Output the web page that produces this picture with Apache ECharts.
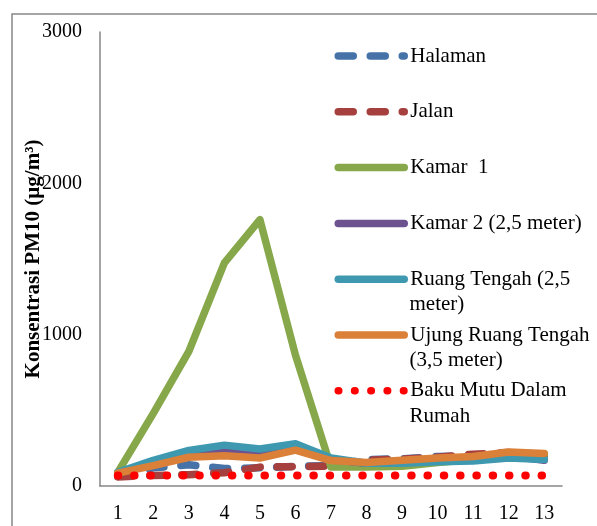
<!DOCTYPE html>
<html>
<head>
<meta charset="utf-8">
<script src="https://cdn.jsdelivr.net/npm/echarts@6/dist/echarts.min.js"></script>
<style>
  html, body { margin: 0; padding: 0; background: #ffffff; }
  #chart { width: 597px; height: 526px; }
</style>
</head>
<body>
<div id="chart"></div>
<script>
// Sampling points along the x axis
const categories = ['1', '2', '3', '4', '5', '6', '7', '8', '9', '10', '11', '12', '13'];

// PM10 concentration (µg/m³) per location
const halaman      = [70, 120, 140, 115, 120, 130, 135, 175, 180, 195, 200, 215, 200];
const jalan        = [60, 70, 75, 88, 125, 128, 132, 170, 178, 190, 210, 222, 205];
const kamar1       = [90, 480, 890, 1475, 1760, 865, 125, 125, 130, 155, 175, 220, 210];
const kamar2       = [85, 150, 210, 235, 205, 240, 175, 150, 160, 175, 185, 200, 170];
const ruangTengah  = [90, 170, 235, 270, 245, 280, 185, 150, 150, 160, 165, 185, 175];
const ujungRuang   = [85, 135, 190, 200, 185, 237, 168, 155, 170, 185, 195, 225, 215];
const bakuMutu     = [70, 70, 70, 70, 70, 70, 70, 70, 70, 70, 70, 70, 70];

// Y axis ticks
const yTicks = [0, 1000, 2000, 3000];

const seriesNames = [
  'Halaman', 'Jalan', 'Kamar  1', 'Kamar 2 (2,5 meter)',
  'Ruang Tengah (2,5 meter)', 'Ujung Ruang Tengah (3,5 meter)', 'Baku Mutu Dalam Rumah'
];
// First line of each legend entry; continuation lines are drawn below
const legendFirstLine = {
  'Ruang Tengah (2,5 meter)': 'Ruang Tengah (2,5',
  'Ujung Ruang Tengah (3,5 meter)': 'Ujung Ruang Tengah',
  'Baku Mutu Dalam Rumah': 'Baku Mutu Dalam'
};
const legendSecondLine = ['meter)', '(3,5 meter)', 'Rumah'];

const FONT = '"Liberation Serif", "Times New Roman", serif';

function lineSeries(name, data, color, width, dash) {
  return {
    name: name,
    type: 'line',
    data: data,
    symbol: 'none',
    showSymbol: false,
    smooth: false,
    lineStyle: { color: color, width: width, type: dash || 'solid', cap: 'round', join: 'round' },
    itemStyle: { color: color },
    emphasis: { disabled: true },
    silent: true
  };
}

const chart = echarts.init(document.getElementById('chart'), null, { renderer: 'canvas' });

const legendTop = 44;
const legendStep = 55.8;

chart.setOption({
  animation: false,
  backgroundColor: '#ffffff',
  grid: { left: 100, right: 35, top: 32, bottom: 40, containLabel: false },
  xAxis: {
    type: 'category',
    data: categories,
    boundaryGap: true,
    axisLine: { show: true, lineStyle: { color: '#868686', width: 1.5 } },
    axisTick: { show: false },
    axisLabel: { color: '#000', fontFamily: FONT, fontSize: 20, margin: 18, interval: 0 },
    splitLine: { show: false }
  },
  yAxis: {
    type: 'value',
    min: yTicks[0],
    max: yTicks[yTicks.length - 1],
    interval: yTicks[1] - yTicks[0],
    axisLine: { show: true, lineStyle: { color: '#868686', width: 1.5 } },
    axisTick: { show: false },
    splitLine: { show: false },
    axisLabel: { color: '#000', fontFamily: FONT, fontSize: 20, margin: 18, formatter: function (v) { return String(v); } },
    name: 'Konsentrasi PM10 (µg/m³)',
    nameLocation: 'middle',
    nameGap: 56,
    nameMoveOverlap: false,
    nameTextStyle: { color: '#000', fontFamily: FONT, fontSize: 21, fontWeight: 'bold' }
  },
  legend: {
    orient: 'vertical',
    left: 334.5,
    top: legendTop,
    padding: 0,
    itemWidth: 66,
    itemHeight: 24,
    itemGap: legendStep - 24,
    selectedMode: false,
    data: seriesNames,
    formatter: function (name) { return legendFirstLine[name] || name; },
    textStyle: { color: '#000', fontFamily: FONT, fontSize: 21, lineHeight: 24, padding: [0, 0, 0, 1] },
    itemStyle: { opacity: 0, borderWidth: 0 },
    lineStyle: { width: 7.5, opacity: 1 }
  },
  graphic: [
    {
      type: 'rect',
      shape: { x: 12, y: 14, width: 600, height: 530 },
      style: { fill: 'none', stroke: '#888888', lineWidth: 1.5 },
      silent: true, z: -1
    }
  ].concat(legendSecondLine.map(function (t, i) {
    return {
      type: 'text',
      left: 409.5,
      top: legendTop + legendStep * (4 + i) + 27,
      style: { text: t, fill: '#000', font: '21px ' + FONT },
      silent: true
    };
  })),
  series: [
    lineSeries(seriesNames[0], halaman, '#4672A8', 7.5, [15, 17]),
    lineSeries(seriesNames[1], jalan, '#A6403E', 7.5, [15, 17]),
    lineSeries(seriesNames[2], kamar1, '#87A84A', 7.5),
    lineSeries(seriesNames[3], kamar2, '#6D5290', 7.5),
    lineSeries(seriesNames[4], ruangTengah, '#3E99B0', 7.5),
    lineSeries(seriesNames[5], ujungRuang, '#DB8039', 7.5),
    lineSeries(seriesNames[6], bakuMutu, '#FF0000', 8, [0.5, 15.8])
  ]
});
</script>
</body>
</html>
